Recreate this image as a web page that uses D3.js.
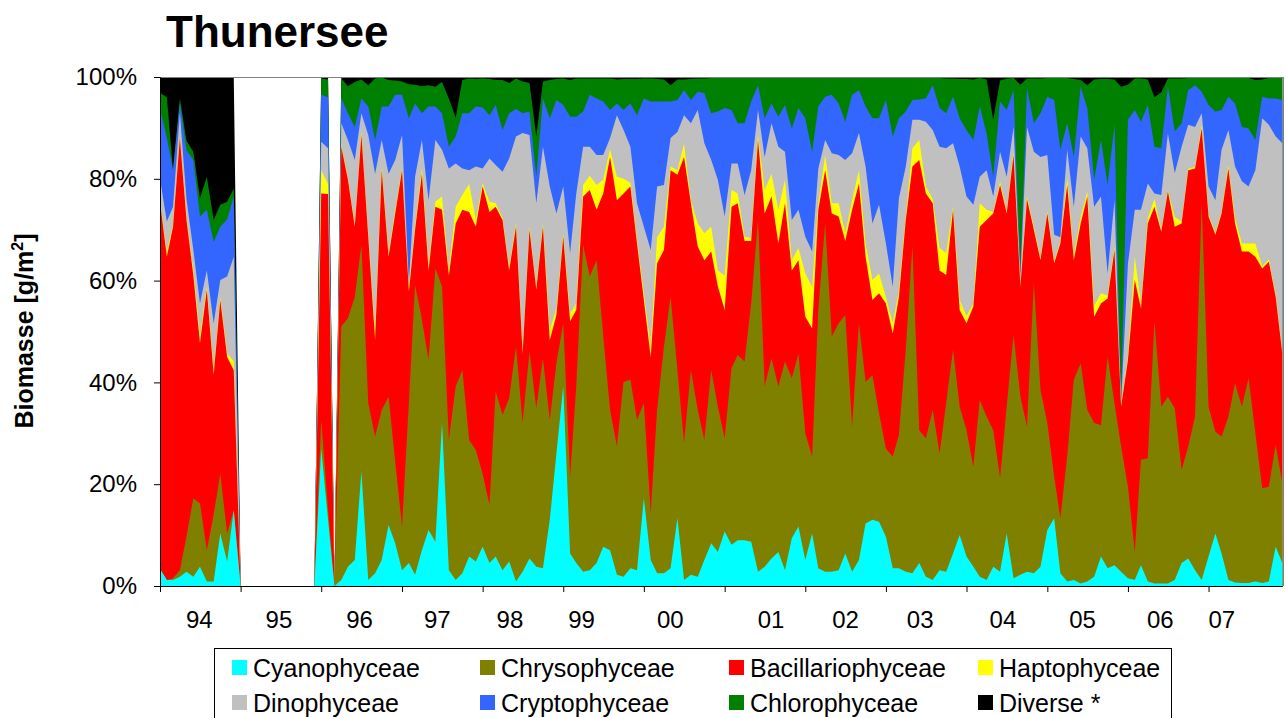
<!DOCTYPE html>
<html><head><meta charset="utf-8">
<script src="https://cdn.jsdelivr.net/npm/d3@7"></script>
<style>body{margin:0;background:#fff;} svg{display:block;font-family:"Liberation Sans",Arial,sans-serif;}</style>
</head><body><svg id="c" width="1286" height="718"></svg>
<script>
const seriesNames = ["Cyanophyceae","Chrysophyceae","Bacillariophyceae","Haptophyceae","Dinophyceae","Cryptophyceae","Chlorophyceae","Diverse *"];
const seriesColors = ["#00FFFF","#808000","#FF0000","#FFFF00","#C0C0C0","#3366FF","#008000","#000000"];
const yearLabels = ["94","95","96","97","98","99","00","01","02","03","04","05","06","07"];
const yearTicks = [1994,1995,1996,1997,1998,1999,2000,2001,2002,2003,2004,2005,2006,2007];
const yTicks = [0,0.2,0.4,0.6,0.8,1];

// monthly samples Jan 1994 .. Dec 2007 (one row per year)
const cyano = [
3.4,1.2,1.2,1.8,2.8,1.8,3.8,0.9,0.9,10.3,4.8,14.9,
0,0,0,0,0,0,0,0,0,0,0,0,
27,13,0,1.2,3.8,5.1,22.5,1.2,2.5,5.1,12,8.4,
3.1,4.5,2.2,7,11,8.7,32,3.1,1.2,2.5,5.8,4.8,
7.7,4.5,5.8,3.1,4.8,0.9,2.8,5.4,3.8,3.5,13,26,
39.2,6.4,4.5,2.8,3.1,4.5,7.7,7,2.2,1.8,3.5,3.1,
17.2,5.1,2.5,2.5,3.5,13.3,1.2,2.2,1.8,5.1,8.4,6.7,
10.7,8.1,9,9,8.7,2.8,3.8,5.4,6.7,3.1,9.4,11.7,
5.1,10.3,3.5,2.8,2.8,3.1,6.4,2.8,5.1,12.3,13,12.6,
9.7,3.5,3.5,2.8,2.5,4.5,1.8,1.2,3.1,2.8,6.4,10,
5.8,3.8,1.8,1.2,3.8,2.8,10.3,1.5,2.2,2.8,2.5,3.8,
11,13.3,2.5,0.9,1.2,0.5,0.9,1.8,5.8,3.5,4.1,2.8,
1.5,1.2,4.1,0.9,0.5,0.5,0.5,1.2,4.5,5.4,3.1,1.2,
5.8,10.3,6.4,1.2,0.7,0.6,0.6,0.9,0.6,0.9,7.7,4.5];
const chryso = [
0,0,0.3,1.3,6.9,15.4,12.4,6.1,13.1,11.7,5.5,0,
0,0,0,0,0,0,0,0,0,0,0,0,
5.6,2,0,49.8,48.8,51.7,44.5,34.7,26.8,29.5,25.2,16,
8.6,31.4,56.9,45.3,33.4,53.7,26.8,25.6,38,39.9,22.9,21.9,
14.3,11.4,32.4,30.5,32.1,46.1,29.2,40.6,31.1,41.2,19.6,17.7,
12.4,15.1,34.7,64.2,57.7,59.5,41.3,27.6,25.2,38.3,37,29.5,
18.7,9.2,32.1,44.5,53.3,29.1,26.9,40.2,32.8,23.6,34,28.5,
18.3,34.7,36.4,35.1,46.8,69.1,35.4,39.3,32.5,41,31.4,34,
24.9,15.1,50.7,68.4,46.2,48.5,46.8,28.5,46.5,27.8,28.4,21.3,
17.3,21.9,26.2,43.6,64.2,26.1,27.2,33.4,22.9,33.1,40,25.2,
24.8,19.6,34.7,32.1,26.8,18.4,24.9,47.8,35,28.5,57,34.7,
21,8.2,10.8,24.5,39.3,43.2,33.7,30.2,25.8,41.5,31.8,24.6,
18,5.5,20.7,24.2,51.4,34.7,36.7,33.7,18.3,22,30.2,74,
29.4,20,22.9,32.1,39.1,34.6,40.2,29.1,18.6,18.6,20,15.7];
const bacillario = [
72.1,63.5,69.1,84.9,62.2,43.8,31.5,51.2,27.5,34.2,34.7,27.5,
0,0,0,0,0,0,0,0,0,0,0,0,
44.5,62,0,35.3,27.2,13.8,21.6,32.7,19,47.1,27.5,48.8,
70,21.9,10.9,28.7,17.6,12.1,15.1,32.3,32,31.5,44.8,43.9,
56.5,57.6,36.3,38.3,25.1,23.6,13.7,24,23.3,25.9,15.7,9.5,
17,30.5,15,9.5,17,9.9,28.1,49.7,48.4,37,38,34.7,
20.3,30.7,28.8,19,24.9,38.4,56.2,32.8,32.1,35.3,23.3,23.7,
25.2,31.7,29.8,23.7,12.3,15.7,34,31.8,28.1,31.1,21.2,18.3,
22.9,25.2,19.7,10.5,24.2,21,14.6,42.6,27.5,24.6,14.8,23.6,
28.5,24.2,27.1,25.5,15.7,53.1,48.1,40.6,36,25.2,27.5,19,
21,31.5,34.1,38.6,42.6,57.6,38,35.4,21.6,44.7,10.5,25.5,
41.2,41.9,54,53.4,23.5,27.5,41.9,20.9,23.9,11.5,30.1,7.8,
24.9,53.4,29.7,46.1,22.6,34.4,40.3,35.7,48.4,54.3,48.7,14.7,
37.4,38.7,43.9,48.7,31.4,30.5,24.9,34.7,43.2,44.2,29.1,25.5];
const hapto = [
0,1,0.4,0.3,0.4,1,1.3,0.6,0.9,0.6,0.7,1.7,
0,0,0,0,0,0,0,0,0,0,0,0,
4.6,2,0,0.3,0.4,0.4,0.7,0.4,1.7,0.5,0.6,0.6,
0.3,0.7,0.6,1,1,1,2.6,1,3.3,2.9,5.5,1.4,
0.6,2,0.7,0.4,0.6,0.6,0.6,0.6,0.6,0.6,2,1.3,
0.4,1.5,1.3,2.3,2.8,4.9,2.7,1.5,4.6,2.9,0.7,0.7,
1.3,2,5.1,4.6,0.7,0.9,2.6,0.6,4.5,5.3,4.9,3.1,
6.8,3.3,1.9,0.8,0.5,1,4.6,4.5,6.6,4.6,2,2.4,
8.5,8.2,1.3,3,2,2.6,1.5,1.9,2.6,2.6,3.9,3.9,
1.3,2,1.2,0.7,3.6,3.9,1.4,0.8,4.4,4.3,0.6,2,
1.4,0.6,4.6,2,0.3,0.6,0.4,0.5,0.4,0.5,0.5,0.5,
0.4,0.4,0.4,1.2,1,1.3,1,2.1,2,0.5,0.5,0.3,
0.6,4.6,1,1,1.6,0.3,0.3,1.9,0.4,0.3,0.3,0.6,
0.4,0.4,0.3,0.6,1.1,1.6,1.6,2.6,0.4,0.5,0.3,0.3];
const dino = [
4.5,5.9,3.5,4.6,3.7,4,6.5,3.2,9.2,3.3,15.1,20.6,
0,0,0,0,0,0,0,0,0,0,0,0,
5.6,7,0,4.3,7.4,12.7,3.6,19.6,31,5.4,15.7,9.9,
6.6,1,9.8,5.6,12.8,12.1,9.2,20,8.5,5.2,2.7,10.4,
2.9,8.5,7.5,9.1,21.4,17.1,42.7,18,16.4,15.1,28.2,18.7,
9.5,11.9,21.6,7.5,5.7,5.9,4.9,2.2,12.1,9.6,7.1,7.2,
13.1,19,10,8.2,5.6,7.5,5.6,15.1,22.3,17.7,13.1,17.8,
11.6,5.2,5.9,8.2,13.4,4.9,6.5,9.9,12.4,5.5,7.9,7.5,
7.2,6.9,6.8,2.9,9.8,9.5,14.4,9.2,7.3,15.1,11.1,13.5,
10.5,7.2,18.2,9.8,5.6,4,12.7,13.6,19.9,20.6,12.5,26.2,
23.5,19.4,5.2,7.8,3,5.9,6.8,5,1.3,13.7,14.8,19.8,
11.1,5.2,0.8,5.7,9.5,15.8,8.5,19.5,19,4.4,9.3,0.4,
18.3,9.2,18.4,6.9,1,6.9,11.1,8.6,14.7,8.6,7.9,2.4,
5.5,6.4,12.2,7,10.1,12.2,11.2,14.4,29.1,26.4,31.2,41];
const crypto = [
13.8,16.4,7.2,1.9,9.6,17.7,17.1,11.9,16,10.5,11.2,11.8,
0,0,0,0,0,0,0,0,0,0,0,0,
9.2,10,0,4.9,5.3,6.5,2.9,5.6,6.6,6.6,13.2,12.8,
7.9,32.4,14.4,5.3,18.4,6.6,7.2,4.3,5.3,10.9,11.2,11.8,
12,8.5,11.8,8.2,8.9,5.4,3.9,4.6,5.2,9.5,13.4,22.3,
16,26.8,15.1,6.9,10.2,11.1,10.5,5.5,2.3,3.9,8.5,17.3,
25.2,29.2,16.7,16.4,7.2,6.3,4.9,4.6,3.6,9.8,9.2,13.4,
21.3,10.5,7.9,14.1,13.5,4.9,7.6,3.9,5.9,9.2,18,20,
23.3,19.6,12.2,8.5,11.5,10.1,7.5,11.5,8.4,11.8,20.7,17,
28.2,29.5,15.7,10.8,3.9,4,4.6,8.8,7.6,6.9,9.1,9.5,
13.1,12.7,13.8,7.2,3.9,9.9,13.1,7.2,1.5,7.6,5.6,8.6,
11.4,26.5,17.2,5.2,9.8,9.8,7.8,5.3,11.1,17.4,14.8,0.3,
28.3,19.6,17.3,15.4,9.2,9.2,9.2,8.2,4.6,6.8,8.2,4.2,
16,17.4,7.8,6.5,12.4,10.7,11.4,5.9,4.2,5.2,7.5,8.5];
const chloro = [
3.1,8,0,1,1.9,1.6,3.6,6.5,4.3,4.3,3.5,1.6,
0,0,0,0,0,0,0,0,0,0,0,0,
3.2,3.5,0,3.9,5.3,8.8,3.7,4.2,12.1,5.7,5.2,2.8,
2.6,6.7,3.7,5.3,4.2,3.9,6.1,9.5,3.7,6.5,6.8,5.4,
5.7,7.1,4.9,9.8,5.9,6,6.2,5.6,7.9,3.3,7.5,4.1,
5.2,7.2,7.5,6.5,3.2,3.9,4.5,6.2,4.7,6.1,4.8,7.1,
3.9,4.5,4.4,4.3,3.2,4,2.1,4.1,2.6,2.9,6.9,6.6,
6,6.4,9,9,4.7,1.5,8,5.1,7.7,5.4,10,6,
8,14.6,5.7,3.8,3.4,5.1,8.7,3.4,2.5,5.6,7.9,7.9,
4.3,11.5,7.9,6.6,4.3,4.2,4,1.4,5.9,6.8,3.6,7.7,
10,11.9,5.6,10.6,11.2,4.1,6.2,2.4,36.5,1.9,8.8,6.8,
3.7,4.3,14.1,8.9,15.3,1.3,4.6,19.7,12,20.8,8.9,61.9,
6.9,6.2,8.5,5,9.7,11,1.6,10.4,8.8,2.4,1.4,2.7,
5.3,6.6,6.3,3.7,5,9.6,9.9,11.8,3.4,4,4,4.3];
const diverse = [
3.1,4,18.3,4.2,12.5,14.7,23.8,19.6,28.1,25.1,24.5,21.9,
0,0,0,0,0,0,0,0,0,0,0,0,
0.3,0.5,0,0.3,1.8,1,0.5,1.6,0.3,0.1,0.6,0.7,
0.9,1.4,1.5,1.8,1.6,1.9,1,4.2,8,0.6,0.3,0.4,
0.3,0.4,0.6,0.6,1.2,0.3,0.9,1.2,11.7,0.9,0.6,0.4,
0.3,0.6,0.3,0.3,0.3,0.3,0.3,0.3,0.5,0.4,0.4,0.4,
0.3,0.3,0.4,0.5,1.6,0.5,0.5,0.4,0.3,0.3,0.2,0.2,
0.1,0.1,0.1,0.1,0.1,0.1,0.1,0.1,0.1,0.1,0.1,0.1,
0.1,0.1,0.1,0.1,0.1,0.1,0.1,0.1,0.1,0.2,0.2,0.2,
0.2,0.2,0.2,0.2,0.2,0.2,0.2,0.2,0.2,0.3,0.3,0.4,
0.4,0.5,0.2,0.5,8.4,0.7,0.3,0.2,1.5,0.3,0.3,0.3,
0.2,0.2,0.2,0.2,0.4,0.6,1.6,0.5,0.4,0.4,0.5,1.9,
1.5,0.3,0.3,0.5,4,3,0.3,0.3,0.3,0.2,0.2,0.2,
0.2,0.2,0.2,0.2,0.2,0.2,0.2,0.6,0.5,0.2,0.2,0.2];

const seriesValues = [cyano, chryso, bacillario, hapto, dino, crypto, chloro, diverse];
const sampleDates = d3.timeMonths(new Date(1994,0,1), new Date(2008,0,1));

const table = sampleDates.map((d,i) => {
  const row = {date: d};
  seriesNames.forEach((n,j) => row[n] = seriesValues[j][i]);
  return row;
});

const svg = d3.select("#c");
const L = 160, R = 1282.3, T = 77, B = 586;
const x = d3.scaleTime().domain([new Date(1994,0,1), new Date(2007,11,1)]).range([L, R]);
const y = d3.scaleLinear().domain([0,1]).range([B, T]);

const stacked = d3.stack().keys(seriesNames).offset(d3.stackOffsetExpand)(table);
const color = d3.scaleOrdinal().domain(seriesNames).range(seriesColors);

// draw from the top layer down, each filled from baseline to its upper edge (no seams)
const area = d3.area().x(d => x(d.data.date)).y0(B).y1(d => y(d[1])).curve(d3.curveLinear);
svg.append("g").selectAll("path").data(stacked.slice().reverse()).join("path")
  .attr("d", area).attr("fill", d => color(d.key));

// frame
svg.append("line").attr("x1", L).attr("x2", 1283).attr("y1", T + 0.5).attr("y2", T + 0.5).attr("stroke", "#808080");
svg.append("line").attr("x1", 1283.5).attr("x2", 1283.5).attr("y1", T).attr("y2", B).attr("stroke", "#808080");

// axes
const yAxis = svg.append("g").attr("transform", `translate(${L},0)`)
  .call(d3.axisLeft(y).tickValues(yTicks).tickFormat(d3.format(".0%")).tickSize(6).tickPadding(17));
yAxis.selectAll("text").attr("font-size", 24).attr("font-family", "Liberation Sans, Arial").attr("fill", "#000");
yAxis.select(".domain").attr("stroke", "#000");

const xAxis = svg.append("g").attr("transform", `translate(0,${B})`)
  .call(d3.axisBottom(x).tickValues(yearTicks.map(yy => new Date(yy,0,1))).tickFormat("").tickSize(6).tickSizeOuter(0));
xAxis.select(".domain").attr("stroke", "#000");

// year labels (placed roughly in the middle of each year as in the original)
const labelShift = [-1,-2,-2,-5,-13,-22,-14,6,0,-6,-4,-5,-8,-27];
svg.append("g").selectAll("text").data(yearLabels).join("text")
  .attr("x", (d,i) => (x(new Date(yearTicks[i],0,1)) + x(new Date(yearTicks[i]+1,0,1)))/2 + labelShift[i])
  .attr("y", 628).attr("text-anchor", "middle").attr("font-size", 24).text(d => d);

// title
svg.append("text").attr("x", 166).attr("y", 47).attr("font-size", 44).attr("font-weight", "bold").text("Thunersee");

// y label
const yl = svg.append("text").attr("transform", "translate(33,331) rotate(-90)")
  .attr("text-anchor", "middle").attr("font-size", 25).attr("font-weight", "bold");
yl.append("tspan").text("Biomasse [g/m");
yl.append("tspan").attr("font-size", 16).attr("dy", -10).text("2");
yl.append("tspan").attr("dy", 10).text("]");

// legend
const lg = svg.append("g");
lg.append("rect").attr("x", 214.5).attr("y", 648.5).attr("width", 957).attr("height", 90)
  .attr("fill", "#fff").attr("stroke", "#000");
const colX = [232, 480, 729, 978];
const rowY = [668, 703];
seriesNames.forEach((n,i) => {
  const cx = colX[i % 4], cy = rowY[Math.floor(i / 4)];
  lg.append("rect").attr("x", cx).attr("y", cy - 8).attr("width", 15).attr("height", 15).attr("fill", color(n));
  lg.append("text").attr("x", cx + 21).attr("y", cy + 9).attr("font-size", 25).text(n);
});
</script></body></html>
